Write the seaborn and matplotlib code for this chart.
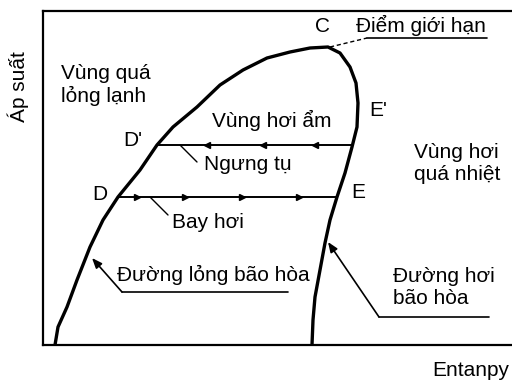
import matplotlib
matplotlib.use("Agg")
import matplotlib.pyplot as plt
import seaborn as sns
import pandas as pd

# Saturation dome (enthalpy, pressure in arbitrary diagram units)
liquid_h = [12, 15, 24, 34, 47, 60, 75, 97, 114, 130, 154, 177, 200, 224, 247, 267, 285]
liquid_p = [0, 18, 38, 65, 98, 125, 148, 175, 200, 218, 238, 260, 275, 287, 293, 297, 298]
vapor_h = [285, 297, 307, 313, 315, 314, 309, 302, 294, 287, 282, 277, 272, 270, 269]
vapor_p = [298, 292, 278, 262, 242, 218, 198, 172, 148, 125, 102, 75, 48, 25, 0]

# Process lines: condensation (D'-E') and evaporation (D-E)
cond_h = [114, 309]
cond_p = [200, 200]
evap_h = [75, 294]
evap_p = [148, 148]
cond_arrows_h = [164, 220, 272]
evap_arrows_h = [94, 142, 199, 256]

sns.set_theme(style="white")
plt.rcParams['font.family'] = ['Liberation Sans', 'DejaVu Sans']

fig = plt.figure(figsize=(5.12, 3.82), dpi=100)
ax = fig.add_axes([43/512, 37/382, 469/512, 334/382])
ax.set_xlim(0, 469)
ax.set_ylim(0, 334)

sat = pd.DataFrame({"h": liquid_h + vapor_h, "p": liquid_p + vapor_p})
sns.lineplot(data=sat, x="h", y="p", sort=False, color="black", lw=2.4, ax=ax)

proc = pd.DataFrame({"h": cond_h + evap_h, "p": cond_p + evap_p,
                     "line": ["c", "c", "e", "e"]})
sns.lineplot(data=proc, x="h", y="p", units="line", estimator=None, sort=False,
             color="black", lw=1.4, ax=ax)
ax.plot(cond_arrows_h, [cond_p[0]] * len(cond_arrows_h), ls="none", marker="<",
        ms=5, color="black")
ax.plot(evap_arrows_h, [evap_p[0]] * len(evap_arrows_h), ls="none", marker=">",
        ms=5, color="black")

for s in ["left", "bottom", "top"]:
    ax.spines[s].set_color("black")
    ax.spines[s].set_linewidth(1.6)
ax.spines["right"].set_visible(False)
ax.set_xticks([])
ax.set_yticks([])
ax.set_xlabel("")
ax.set_ylabel("")

fs = 15
kw = dict(fontsize=fs, color="black")
ax.text(18, 260, "Vùng quá\nlỏng lạnh", ha="left", va="center", linespacing=1.2, **kw)
ax.text(169, 225, "Vùng hơi ẩm", ha="left", va="center", **kw)
ax.text(90, 205, "D'", ha="center", va="center", **kw)
ax.text(57, 150, "D", ha="center", va="center", **kw)
ax.text(161, 180, "Ngưng tụ", ha="left", va="center", **kw)
ax.text(129, 123, "Bay hơi", ha="left", va="center", **kw)
ax.text(74, 70, "Đường lỏng bão hòa", ha="left", va="center", **kw)
ax.text(280, 318, "C", ha="center", va="center", **kw)
ax.text(313, 320, "Điểm giới hạn", ha="left", va="center", **kw)
ax.text(335, 235, "E'", ha="center", va="center", **kw)
ax.text(315, 152, "E", ha="center", va="center", **kw)
ax.text(371, 182, "Vùng hơi\nquá nhiệt", ha="left", va="center", linespacing=1.2, **kw)
ax.text(350, 57, "Đường hơi\nbão hòa", ha="left", va="center", linespacing=1.2, **kw)

# leader lines
ax.plot([137, 154], [200, 183], color="black", lw=1)
ax.plot([107, 125], [148, 130], color="black", lw=1)
ax.plot([79, 245], [53, 53], color="black", lw=1.2)
ax.annotate("", xy=(49, 87), xytext=(79, 53),
            arrowprops=dict(arrowstyle="-|>,head_length=0.5,head_width=0.2",
                            color="black", lw=1.2, shrinkA=0, shrinkB=0))
ax.plot([336, 446], [28, 28], color="black", lw=1.2)
ax.annotate("", xy=(285, 103), xytext=(336, 28),
            arrowprops=dict(arrowstyle="-|>,head_length=0.5,head_width=0.2",
                            color="black", lw=1.2, shrinkA=0, shrinkB=0))
ax.plot([287, 324], [298, 307], color="black", lw=1, ls=(0, (3, 2)))
ax.plot([324, 444], [307, 307], color="black", lw=1.2)

fig.text(18/512, 1 - 87/382, "Áp suất", rotation=90, ha="center", va="center", **kw)
fig.text(471/512, 1 - 370/382, "Entanpy", ha="center", va="center", **kw)

fig.savefig("out.png", dpi=100, facecolor="white")
